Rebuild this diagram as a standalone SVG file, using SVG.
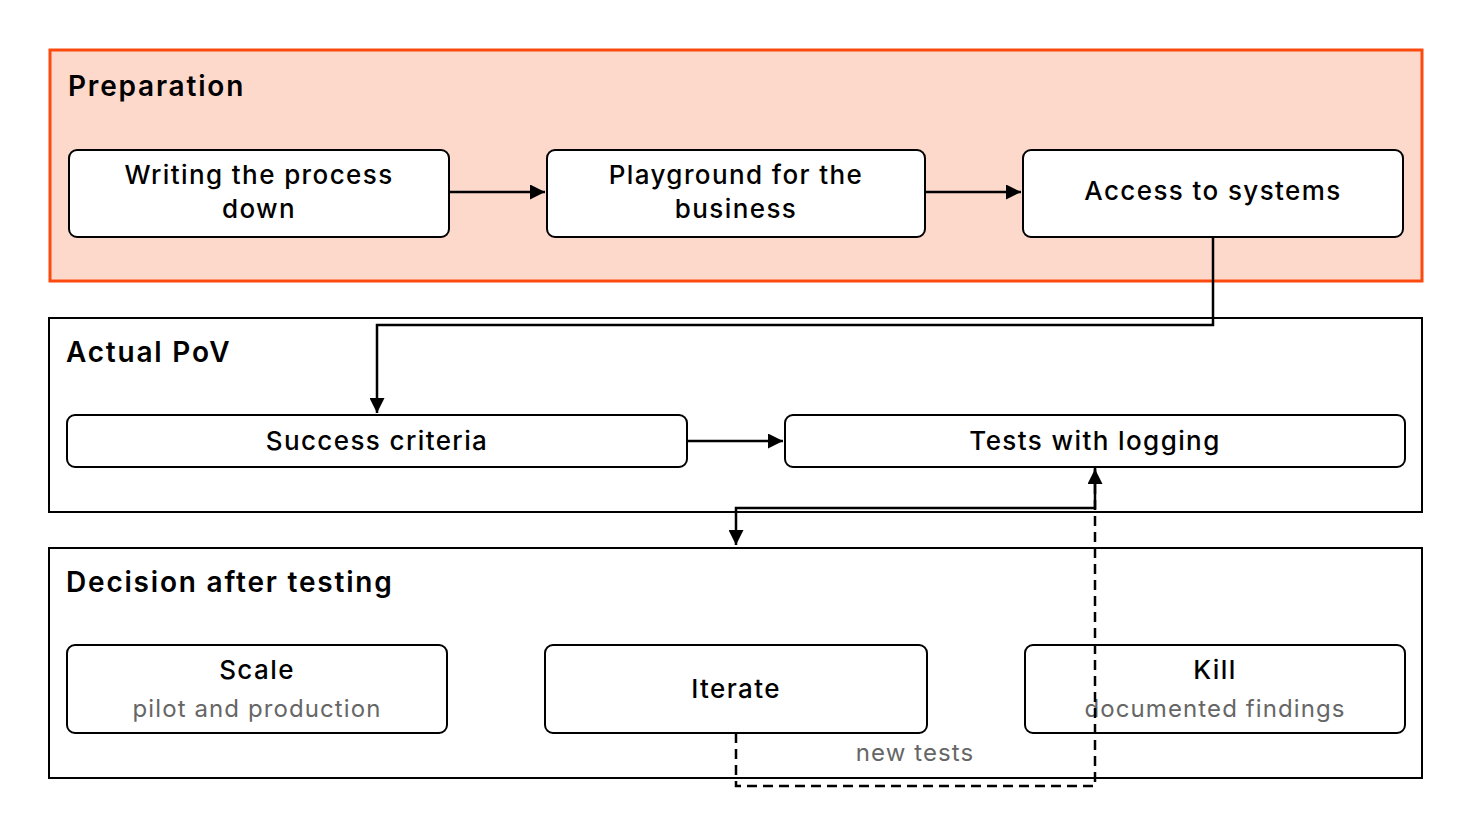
<svg xmlns="http://www.w3.org/2000/svg" width="1472" height="828" viewBox="0 0 1472 828">
<style>
text{font-family:Inter,"Noto Sans",sans-serif;fill:#000}
.t{font-size:28px;font-weight:600;letter-spacing:1.8px}
.n{font-size:26px;font-weight:500;text-anchor:middle;letter-spacing:1.4px}
.s{font-size:24px;fill:#666;text-anchor:middle;letter-spacing:1.1px}
.box{fill:#fff;stroke:#000;stroke-width:2}
.c{fill:none;stroke:#000;stroke-width:2.5}
</style>
<defs><marker id="a" viewBox="0 0 10 10" refX="10" refY="5" markerWidth="6" markerHeight="6" orient="auto"><path d="M0,0L10,5L0,10z" fill="#000"/></marker></defs>
<rect width="1472" height="828" fill="#fff"/>
<g id="prep"><rect x="50" y="50" width="1372" height="231" fill="#fdd9cc" stroke="#fc4a0f" stroke-width="3"/><text class="t" x="68" y="96">Preparation</text></g>
<g id="pov"><rect x="49" y="318" width="1373" height="194" fill="#fff" stroke="#000" stroke-width="2"/><text class="t" x="66" y="362">Actual PoV</text></g>
<g id="dec"><rect x="49" y="548" width="1373" height="230" fill="#fff" stroke="#000" stroke-width="2"/><text class="t" x="66" y="592">Decision after testing</text></g>
<g id="n1"><rect class="box" x="69" y="150" width="380" height="87" rx="8"/><text class="n" x="259" y="184">Writing the process</text><text class="n" x="259" y="218">down</text></g>
<g id="n2"><rect class="box" x="547" y="150" width="378" height="87" rx="8"/><text class="n" x="736" y="184">Playground for the</text><text class="n" x="736" y="218">business</text></g>
<g id="n3"><rect class="box" x="1023" y="150" width="380" height="87" rx="8"/><text class="n" x="1213" y="200">Access to systems</text></g>
<g id="n4"><rect class="box" x="67" y="415" width="620" height="52" rx="8"/><text class="n" x="377" y="450">Success criteria</text></g>
<g id="n5"><rect class="box" x="785" y="415" width="620" height="52" rx="8"/><text class="n" x="1095" y="450">Tests with logging</text></g>
<g id="n6"><rect class="box" x="67" y="645" width="380" height="88" rx="8"/><text class="n" x="257" y="679">Scale</text><text class="s" x="257" y="717">pilot and production</text></g>
<g id="n7"><rect class="box" x="545" y="645" width="382" height="88" rx="8"/><text class="n" x="736" y="698">Iterate</text></g>
<g id="n8"><rect class="box" x="1025" y="645" width="380" height="88" rx="8"/><text class="n" x="1215" y="679">Kill</text><text class="s" x="1215" y="717">documented findings</text></g>
<g id="connectors">
<path class="c" d="M449,192H545" marker-end="url(#a)"/>
<path class="c" d="M925,192H1021" marker-end="url(#a)"/>
<path class="c" d="M1213,237V325H377V413" marker-end="url(#a)"/>
<path class="c" d="M687,441H783" marker-end="url(#a)"/>
<path class="c" d="M1095,467V508H736V545" marker-end="url(#a)"/>
<path class="c" d="M736,733V786H1095V469" stroke-dasharray="10,6" marker-end="url(#a)"/>
<text class="s" x="915" y="761">new tests</text>
</g>
</svg>
